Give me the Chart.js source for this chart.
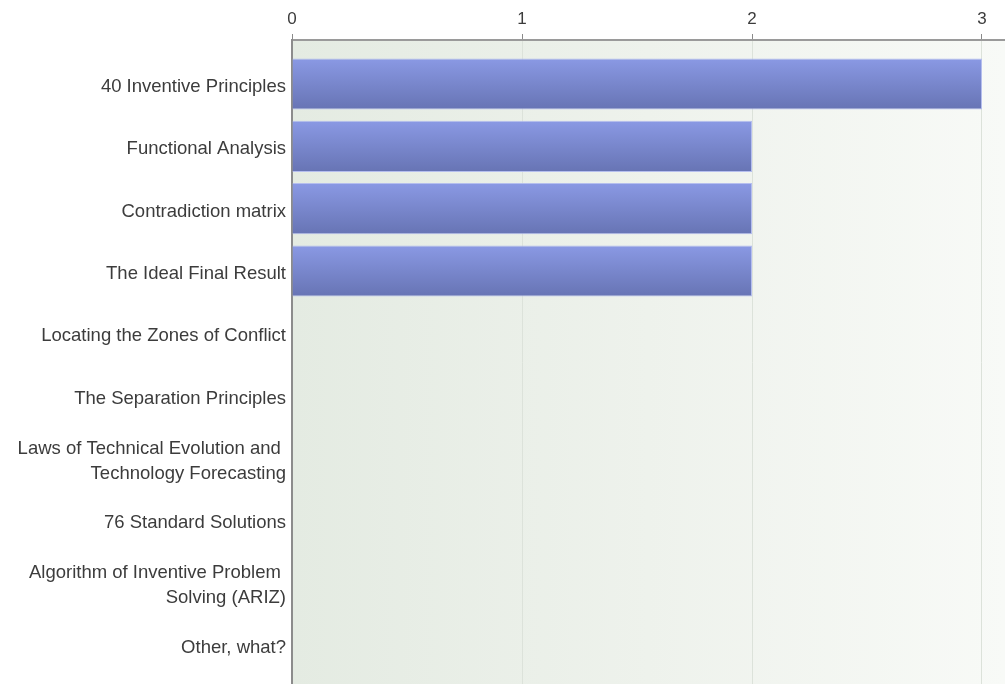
<!DOCTYPE html>
<html>
<head>
<meta charset="utf-8">
<script src="https://cdn.jsdelivr.net/npm/chart.js@4"></script>
<style>
  html, body { margin: 0; padding: 0; background: #ffffff; }
  #wrap { width: 1005px; height: 684px; position: relative; }
</style>
</head>
<body>
<div id="wrap"><canvas id="c"></canvas></div>
<script>
// Survey answers: methods used, number of responses each
const categories = [
  '40 Inventive Principles',
  'Functional Analysis',
  'Contradiction matrix',
  'The Ideal Final Result',
  'Locating the Zones of Conflict',
  'The Separation Principles',
  ['Laws of Technical Evolution and ', 'Technology Forecasting'],
  '76 Standard Solutions',
  ['Algorithm of Inventive Problem ', 'Solving (ARIZ)'],
  'Other, what?'
];
const responses = [3, 2, 2, 2, 0, 0, 0, 0, 0, 0];
const countTicks = [0, 1, 2, 3];

const rowPositions = categories.map((_, i) => i);
const BAR_SHARE = 0.82;

// soft green-to-white wash behind the plot area
const plotBackground = {
  id: 'plotBackground',
  beforeDraw(chart) {
    const { ctx, chartArea: a } = chart;
    if (!a) return;
    const g = ctx.createLinearGradient(a.left, 0, a.right, 0);
    g.addColorStop(0, '#e4ebe2');
    g.addColorStop(0.5, '#eef2ec');
    g.addColorStop(1, '#f8faf7');
    ctx.save();
    ctx.fillStyle = g;
    ctx.fillRect(a.left, a.top, a.right - a.left, a.bottom - a.top);
    ctx.restore();
  }
};

// vertical shading on each bar, lighter at the top edge
function barFill(context) {
  const chart = context.chart;
  if (!chart.chartArea || context.type !== 'data') return '#7786cc';
  const y = chart.scales.y;
  const center = y.getPixelForValue(rowPositions[context.dataIndex]);
  const half = Math.abs(y.getPixelForValue(1) - y.getPixelForValue(0)) * BAR_SHARE / 2;
  const g = chart.ctx.createLinearGradient(0, center - half, 0, center + half);
  g.addColorStop(0, '#8a99e4');
  g.addColorStop(1, '#6774b4');
  return g;
}

new Chart(document.getElementById('c'), {
  type: 'bar',
  data: {
    datasets: [{
      data: responses.map((v, i) => ({ x: v, y: rowPositions[i] })),
      backgroundColor: barFill,
      borderColor: 'rgba(178,188,238,0.95)',
      borderWidth: 1,
      borderSkipped: 'start',
      categoryPercentage: 1,
      barPercentage: BAR_SHARE
    }]
  },
  options: {
    indexAxis: 'y',
    responsive: true,
    maintainAspectRatio: false,
    animation: false,
    layout: { padding: { left: 0, right: 0, top: 0, bottom: 0 } },
    plugins: {
      legend: { display: false },
      tooltip: { enabled: false }
    },
    scales: {
      x: {
        type: 'linear',
        position: 'top',
        min: 0,
        max: 3.1,
        afterBuildTicks: s => { s.ticks = countTicks.map(v => ({ value: v })); },
        afterFit: s => { s.height = 40; },
        grid: {
          color: '#dce2da',
          lineWidth: 1,
          tickColor: '#8a8a8a',
          tickLength: 6
        },
        border: { color: '#9a9a9a', width: 2 },
        ticks: {
          color: '#3c3c3c',
          padding: 4,
          font: { family: 'Liberation Sans, Arial, sans-serif', size: 17 }
        }
      },
      y: {
        type: 'linear',
        reverse: true,
        offset: false,
        min: -0.706,
        max: 9.626,
        afterBuildTicks: s => { s.ticks = rowPositions.map(v => ({ value: v })); },
        afterFit: s => {
          s.width = 292;
          s.paddingTop = 0;
          s.paddingBottom = 0;
        },
        grid: { display: false, drawTicks: false, offset: false },
        border: { color: '#8c8c8c', width: 2 },
        ticks: {
          color: '#3c3c3c',
          padding: 6,
          labelOffset: 3,
          autoSkip: false,
          font: { family: 'Liberation Sans, Arial, sans-serif', size: 18.5, lineHeight: 1.35 },
          callback: v => categories[v]
        }
      }
    }
  },
  plugins: [plotBackground]
});
</script>
</body>
</html>
